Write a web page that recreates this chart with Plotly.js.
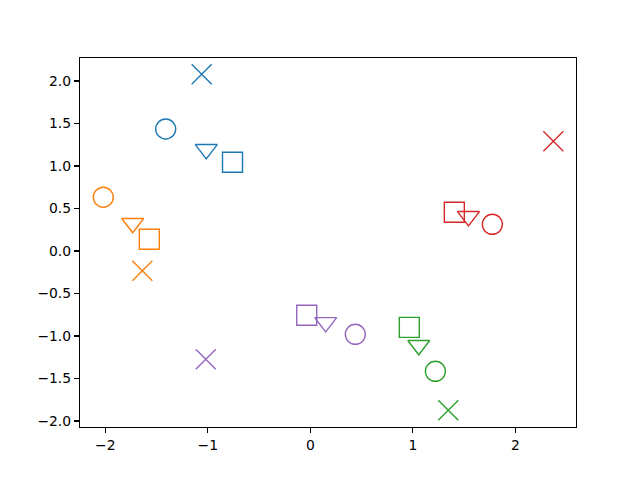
<!DOCTYPE html>
<html>
<head>
<meta charset="utf-8">
<script src="https://cdn.plot.ly/plotly-3.0.1.min.js"></script>
<style>
  html, body { margin: 0; padding: 0; background: #fff; }
  #chart { width: 640px; height: 480px; }
</style>
</head>
<body>
<div id="chart"></div>
<script>
// point order in each series: circle, triangle-down, square, x
const blueX = [-1.411, -1.015, -0.759, -1.060];
const blueY = [1.435, 1.196, 1.044, 2.079];
const orangeX = [-2.020, -1.733, -1.571, -1.639];
const orangeY = [0.632, 0.326, 0.138, -0.232];
const greenX = [1.220, 1.058, 0.966, 1.346];
const greenY = [-1.415, -1.109, -0.898, -1.874];
const redX = [1.776, 1.543, 1.405, 2.371];
const redY = [0.314, 0.408, 0.455, 1.291];
const purpleX = [0.439, 0.150, -0.035, -1.020];
const purpleY = [-0.980, -0.839, -0.756, -1.274];

const symbols = ['circle-open', 'triangle-down-open', 'square-open', 'x-thin-open'];
const sizes = [20, 19, 20, 20];

const series = [
  { x: blueX, y: blueY, color: '#1f77b4' },
  { x: orangeX, y: orangeY, color: '#ff7f0e' },
  { x: greenX, y: greenY, color: '#2ca02c' },
  { x: redX, y: redY, color: '#d62728' },
  { x: purpleX, y: purpleY, color: '#9467bd' }
];

const traces = series.map(s => ({
  x: s.x,
  y: s.y,
  type: 'scatter',
  mode: 'markers',
  hoverinfo: 'none',
  marker: {
    symbol: symbols,
    size: sizes,
    opacity: 1,   // array sizes would otherwise default to 0.7
    color: s.color,
    line: { color: s.color, width: 1.4 }
  }
}));

const axisStyle = {
  showline: true,
  mirror: true,
  linecolor: '#000',
  linewidth: 1.1,
  showgrid: false,
  zeroline: false,
  ticks: 'outside',
  ticklen: 5,
  tickwidth: 1.1,
  tickcolor: '#000',
  tickfont: { family: 'DejaVu Sans', size: 13.9, color: '#000' }
};

const layout = {
  width: 640,
  height: 480,
  showlegend: false,
  paper_bgcolor: '#fff',
  plot_bgcolor: '#fff',
  margin: { l: 80, r: 64, t: 58, b: 53 },
  xaxis: Object.assign({}, axisStyle, {
    range: [-2.247, 2.592],
    tick0: 0,
    dtick: 1
  }),
  yaxis: Object.assign({}, axisStyle, {
    range: [-2.07, 2.27],
    tick0: 0,
    dtick: 0.5,
    tickformat: '.1f'
  })
};

Plotly.newPlot('chart', traces, layout, { staticPlot: true });
</script>
</body>
</html>
